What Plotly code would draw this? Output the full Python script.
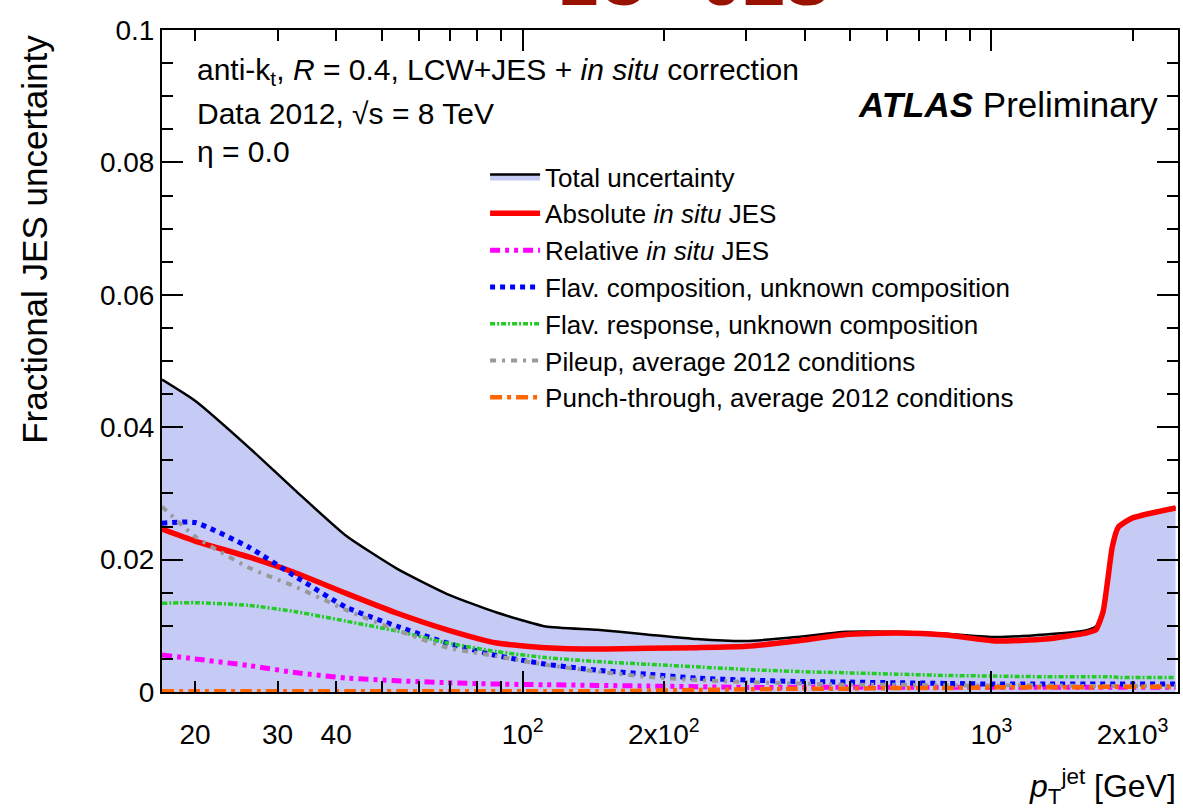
import math
import plotly.graph_objects as go

# ---------------- data ----------------
pt = [17, 20, 26, 33, 42, 54, 69, 88, 112, 144, 184, 235, 300, 383, 490, 626,
      800, 1020, 1305, 1590, 1670, 1730, 1770, 1810, 1865, 2000, 2470]

total_unc = [0.0472, 0.0440, 0.0370, 0.0302, 0.0236, 0.0186, 0.0148, 0.0120, 0.0099,
             0.0094, 0.0087, 0.0080, 0.0077, 0.0083, 0.0091, 0.0091, 0.0088, 0.0083,
             0.0087, 0.0093, 0.0099, 0.0122, 0.0172, 0.0221, 0.0251, 0.0264, 0.0279]

abs_insitu = [0.0246, 0.0228, 0.0204, 0.0179, 0.0149, 0.0119, 0.0094, 0.0074, 0.0067,
              0.0065, 0.0066, 0.0067, 0.0069, 0.0077, 0.0087, 0.0089, 0.0086, 0.0077,
              0.0080, 0.0089, 0.0094, 0.0121, 0.0169, 0.0219, 0.0249, 0.0263, 0.0278]

rel_insitu = [0.0056, 0.0050, 0.0040, 0.0029, 0.0021, 0.0017, 0.0014, 0.0012, 0.0011,
              0.0010, 0.0009, 0.0008, 0.0007, 0.0007, 0.0007, 0.0007, 0.0007, 0.0007,
              0.0007, 0.0007, 0.0007, 0.0007, 0.0007, 0.0007, 0.0007, 0.0007, 0.0007]

flav_comp = [0.0255, 0.0256, 0.0219, 0.0173, 0.0128, 0.0099, 0.0074, 0.0055, 0.0042,
             0.0033, 0.0027, 0.0021, 0.0018, 0.0016, 0.0015, 0.0014, 0.0013, 0.0012,
             0.0012, 0.0012, 0.0012, 0.0012, 0.0012, 0.0012, 0.0012, 0.0012, 0.0012]

flav_resp = [0.0134, 0.0135, 0.0131, 0.0121, 0.0107, 0.0092, 0.0074, 0.0061, 0.0052,
             0.0046, 0.0042, 0.0038, 0.0034, 0.0031, 0.0029, 0.0027, 0.0025, 0.0024,
             0.0023, 0.0023, 0.0023, 0.0023, 0.0023, 0.0023, 0.0022, 0.0022, 0.0022]

pileup = [0.0280, 0.0235, 0.0188, 0.0158, 0.0124, 0.0093, 0.0067, 0.0054, 0.0041,
          0.0031, 0.0023, 0.0018, 0.0015, 0.0013, 0.0011, 0.0011, 0.0010, 0.0010,
          0.0010, 0.0009, 0.0009, 0.0009, 0.0009, 0.0009, 0.0009, 0.0009, 0.0009]

punch = [0.0001, 0.0001, 0.0001, 0.0001, 0.0001, 0.0001, 0.0001, 0.0001, 0.0001,
         0.0001, 0.0002, 0.0003, 0.0004, 0.0005, 0.0005, 0.0006, 0.0006, 0.0007,
         0.0007, 0.0007, 0.0007, 0.0008, 0.0008, 0.0008, 0.0008, 0.0008, 0.0008]

# tick positions and labels for the log pT axis
x_tickvals = [20, 30, 40, 50, 60, 70, 80, 90, 100, 200, 300, 400, 500, 600, 700,
              800, 900, 1000, 2000]
x_ticktext = ["20", "30", "40", "", "", "", "", "", "10<sup>2</sup>",
              "2x10<sup>2</sup>", "", "", "", "", "", "", "", "10<sup>3</sup>",
              "2x10<sup>3</sup>"]
x_long_ticks = [100, 1000]
x_range = [17, 2500]
y_range = [0, 0.1]

FONT = "Liberation Sans, Arial, Helvetica, sans-serif"

fig = go.Figure()

series = [
    ("Total uncertainty", total_unc, dict(color="black", width=2.5)),
    ("Absolute <i>in situ</i> JES", abs_insitu, dict(color="#ff0000", width=5.5)),
    ("Relative <i>in situ</i> JES", rel_insitu,
     dict(color="#ff00ff", width=5, dash="10px,5px,4px,5px,4px,5px")),
    ("Flav. composition, unknown composition", flav_comp,
     dict(color="#0000ff", width=5, dash="5px,5px")),
    ("Flav. response, unknown composition", flav_resp,
     dict(color="#22cc22", width=3.5, dash="5px,2px,2px,2px")),
    ("Pileup, average 2012 conditions", pileup,
     dict(color="#999999", width=4, dash="6px,6px,3px,6px")),
    ("Punch-through, average 2012 conditions", punch,
     dict(color="#ff6600", width=4.5, dash="12px,5px,4px,5px")),
]

for i, (name, vals, ln) in enumerate(series):
    ln = dict(ln, shape="spline", smoothing=0.5)
    kw = {}
    if i == 0:
        kw = dict(fill="tozeroy", fillcolor="#c6cbf6")
    fig.add_trace(go.Scatter(x=pt, y=vals, name=name, mode="lines", line=ln,
                             legendgroup=f"g{i}", hoverinfo="skip", **kw))

# dummy trace to carry the overlay axis (long ticks at 10^2, 10^3)
fig.add_trace(go.Scatter(x=[x_range[0]], y=[None], xaxis="x2", showlegend=False,
                         hoverinfo="skip", mode="lines"))

lx = [math.log10(v) for v in x_range]

fig.update_layout(
    width=1183, height=811,
    margin=dict(l=162, r=3, t=30, b=119),
    paper_bgcolor="white", plot_bgcolor="white",
    font=dict(family=FONT, color="black", size=26),
    showlegend=True,
    legend=dict(x=0.318, y=0.814, xanchor="left", yanchor="top",
                bgcolor="rgba(0,0,0,0)", font=dict(size=26, family=FONT),
                itemwidth=50, tracegroupgap=0, traceorder="grouped"),
    xaxis=dict(type="log", range=lx, tickmode="array", tickvals=x_tickvals,
               ticktext=x_ticktext, ticks="inside", ticklen=11, tickwidth=1.5,
               tickcolor="black", showline=True, linecolor="black", linewidth=2,
               mirror="ticks", showgrid=False, zeroline=False,
               tickfont=dict(size=28, family=FONT), ticklabelstandoff=16),
    xaxis2=dict(type="log", range=lx, overlaying="x", side="bottom",
                tickmode="array", tickvals=x_long_ticks, ticks="inside",
                ticklen=21, tickwidth=1.5, tickcolor="black",
                showticklabels=False, showgrid=False, zeroline=False,
                showline=False, mirror="ticks"),
    yaxis=dict(range=y_range, dtick=0.02, ticks="inside", ticklen=21,
               tickwidth=1.5, tickcolor="black", showline=True, linecolor="black",
               linewidth=2, mirror="ticks", showgrid=False, zeroline=False,
               tickfont=dict(size=28, family=FONT),
               minor=dict(dtick=0.005, ticks="inside", ticklen=11, tickwidth=1.5,
                          tickcolor="black", showgrid=False)),
)

ann = [
    dict(text="anti-k<sub>t</sub>, <i>R</i> = 0.4, LCW+JES + <i>in situ</i> correction",
         x=0.032, y=0.937, xanchor="left", yanchor="middle", font=dict(size=30)),
    dict(text="Data 2012, \u221as = 8 TeV", x=0.032, y=0.874, xanchor="left",
         yanchor="middle", font=dict(size=30)),
    dict(text="\u03b7 = 0.0", x=0.032, y=0.816, xanchor="left", yanchor="middle",
         font=dict(size=30)),
    dict(text="<b><i>ATLAS</i></b> Preliminary", x=0.982, y=0.887, xanchor="right",
         yanchor="middle", font=dict(size=35)),
    dict(text="<i>p</i><sub>T</sub><sup>jet</sup> [GeV]", x=1.0, y=-0.142,
         xanchor="right", yanchor="middle", font=dict(size=32)),
    dict(text="Fractional JES uncertainty", textangle=-90, x=-0.125, y=0.995,
         xanchor="center", yanchor="top", font=dict(size=35)),
    dict(text="<b>LC - JES</b>", x=0.523, y=1.073, xanchor="center",
         yanchor="middle", font=dict(size=66, color="#991100")),
]
for a in ann:
    fig.add_annotation(xref="paper", yref="paper", showarrow=False, **a)

fig.write_html("out.html")
